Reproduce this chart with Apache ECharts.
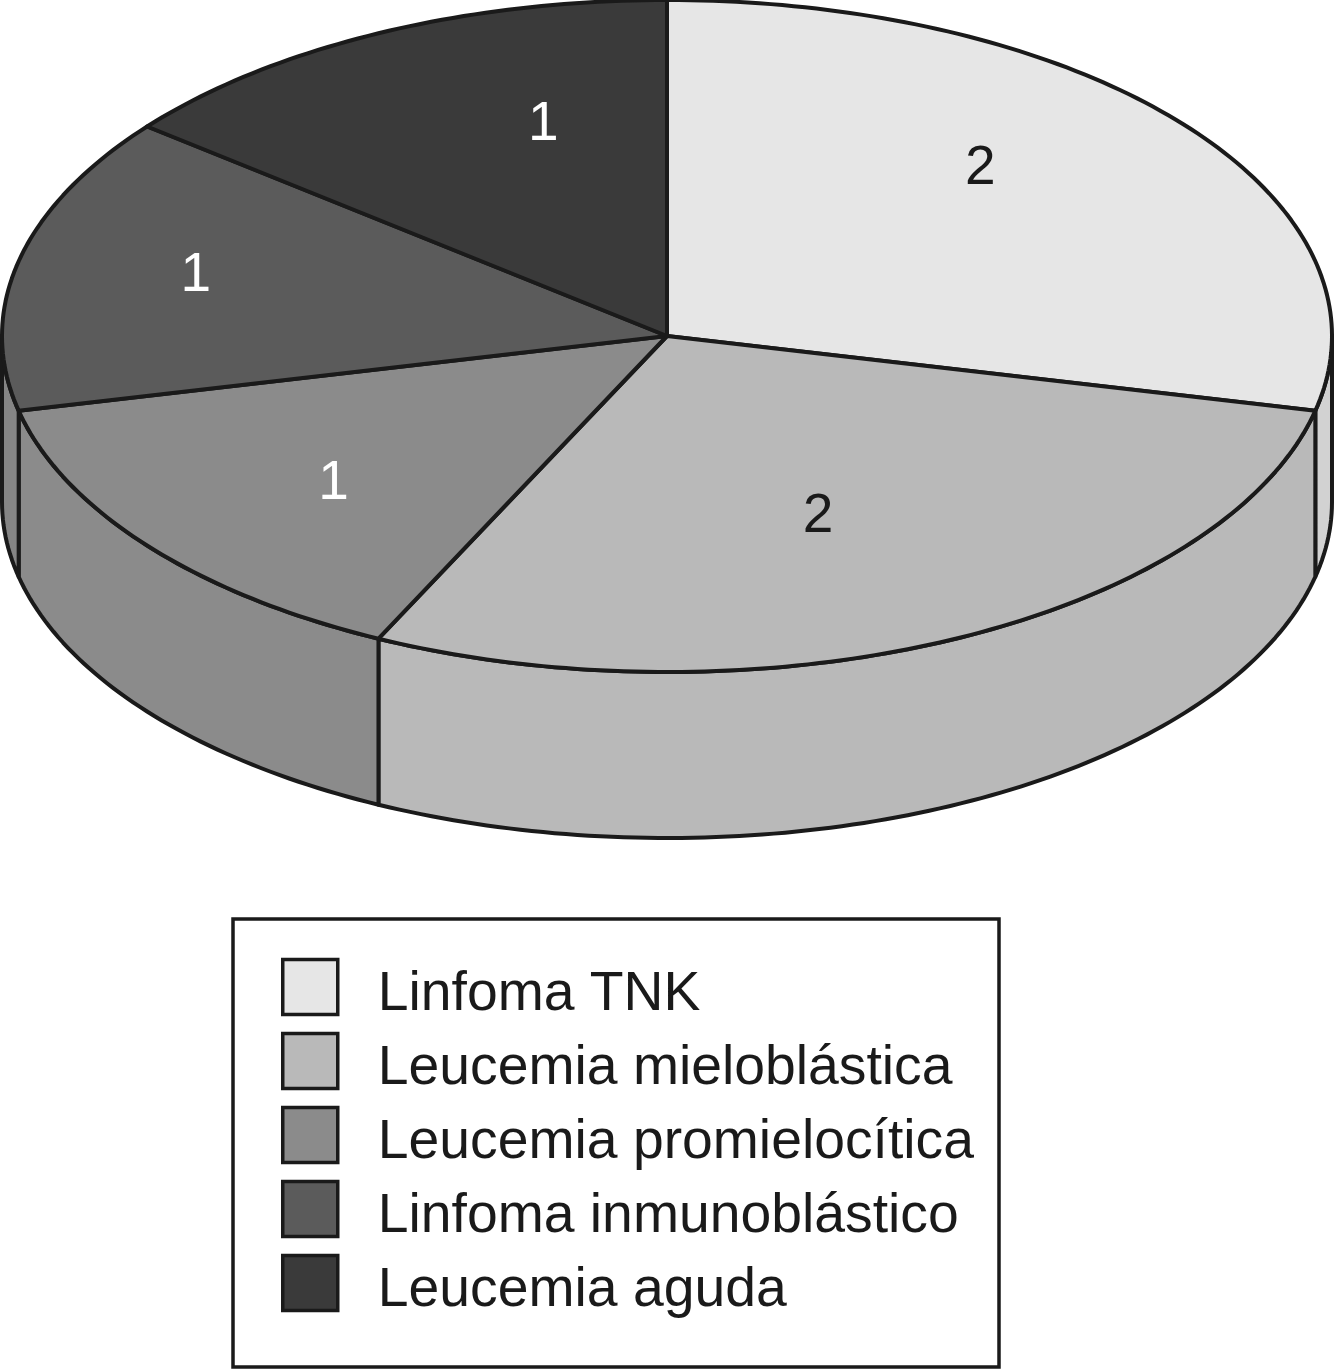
<!DOCTYPE html>
<html>
<head>
<meta charset="utf-8">
<style>html,body{margin:0;padding:0;background:#fff}#c{width:1334px;height:1369px}</style>
<script src="https://cdn.jsdelivr.net/npm/echarts@6/dist/echarts.min.js"></script>
</head>
<body>
<div id="c"></div>
<script>
const categories = ['Linfoma TNK','Leucemia mieloblástica','Leucemia promielocítica','Linfoma inmunoblástico','Leucemia aguda'];
const values = [2,2,1,1,1];
const topColors = ['#e6e6e6','#b9b9b9','#8b8b8b','#5b5b5b','#3a3a3a'];
const sideColors = ['#d2d2d2','#b9b9b9','#8b8b8b','#858585','#3a3a3a'];
const labelColors = ['#1a1a1a','#1a1a1a','#ffffff','#ffffff','#ffffff'];
// label placement relative to each slice's mid-angle: [angle nudge in degrees, fraction of radius]
const labelNudge = [[8.6,.693],[-2.4,.574],[2,.66],[-2.3,.734],[-9.5,.666]];
const DEPTH = 0.494;          // rim height, in y-axis units
const EDGE = '#1a1a1a';

const total = values.reduce((a,b)=>a+b,0);
let acc = 0;
const spans = values.map(v=>{ const s = 90 - acc/total*360; acc += v; return [s, 90 - acc/total*360]; });
const rad = d => d*Math.PI/180;

function arc(api, from, to, dy){
  const n = Math.max(2, Math.ceil(Math.abs(to-from)));
  const pts = [];
  for(let i=0;i<=n;i++){
    const a = rad(from + (to-from)*i/n);
    pts.push(api.coord([Math.cos(a), Math.sin(a) - dy]));
  }
  return pts;
}

function sideRange(s,e){ // s > e, going clockwise; visible part is the lower half (-180..0)
  const hi = Math.min(s, 0), lo = Math.max(e, -180);
  if(hi > lo) return [hi, lo];
  return null;
}

function makeRender(idx){
  return function(params, api){
    const [s,e] = spans[idx];
    const children = [];
    const base = {stroke:EDGE, lineWidth:4, lineJoin:'round'};
    const r = sideRange(s,e);
    if(r){
      const top = arc(api, r[0], r[1], 0);
      const bottom = arc(api, r[0], r[1], DEPTH).reverse();
      children.push({type:'polygon', z2:1, shape:{points:top.concat(bottom)},
        style:Object.assign({fill:sideColors[idx]}, base)});
    }
    const pts = [api.coord([0,0])].concat(arc(api, s, e, 0));
    children.push({type:'polygon', z2:2, shape:{points:pts},
      style:Object.assign({fill:topColors[idx]}, base)});
    const mid = (s+e)/2 + labelNudge[idx][0], lr = labelNudge[idx][1];
    const p = api.coord([lr*Math.cos(rad(mid)), lr*Math.sin(rad(mid))]);
    children.push({type:'text', z2:3, x:p[0], y:p[1]+4, style:{
      text:String(api.value(0)), fill:labelColors[idx], font:'55px "Liberation Sans", Arial, sans-serif',
      align:'center', verticalAlign:'middle'}});
    return {type:'group', children};
  };
}

const chart = echarts.init(document.getElementById('c'), null, {renderer:'canvas'});
chart.setOption({
  animation:false,
  backgroundColor:'#ffffff',
  grid:{left:2, width:1330, top:0, height:672},
  xAxis:{type:'value', min:-1, max:1, show:false},
  yAxis:{type:'value', min:-1, max:1, show:false},
  legend:{
    orient:'vertical', left:233, top:919, height:600,
    padding:[32.5,25,48.5,48],
    borderColor:EDGE, borderWidth:3.5, backgroundColor:'#fff',
    itemWidth:55, itemHeight:55, itemGap:3,
    icon:'rect', selectedMode:false,
    formatter:name=>'{t|'+name+'}',
    textStyle:{fontFamily:'"Liberation Sans", Arial, sans-serif', fontSize:55.3, color:EDGE,
      rich:{t:{fontFamily:'"Liberation Sans", Arial, sans-serif', fontSize:55.3, color:EDGE, lineHeight:46, padding:[16,0,0,35]}}},
    data:categories.map((name,i)=>({name, itemStyle:{color:topColors[i], borderColor:EDGE, borderWidth:3.5}}))
  },
  tooltip:{show:false},
  series:categories.map((name,i)=>({
    type:'custom', name, coordinateSystem:'cartesian2d', silent:true, clip:false,
    itemStyle:{color:topColors[i]},
    data:[[values[i]]], encode:{x:[], y:[]},
    renderItem:makeRender(i)
  }))
});
</script>
</body>
</html>
